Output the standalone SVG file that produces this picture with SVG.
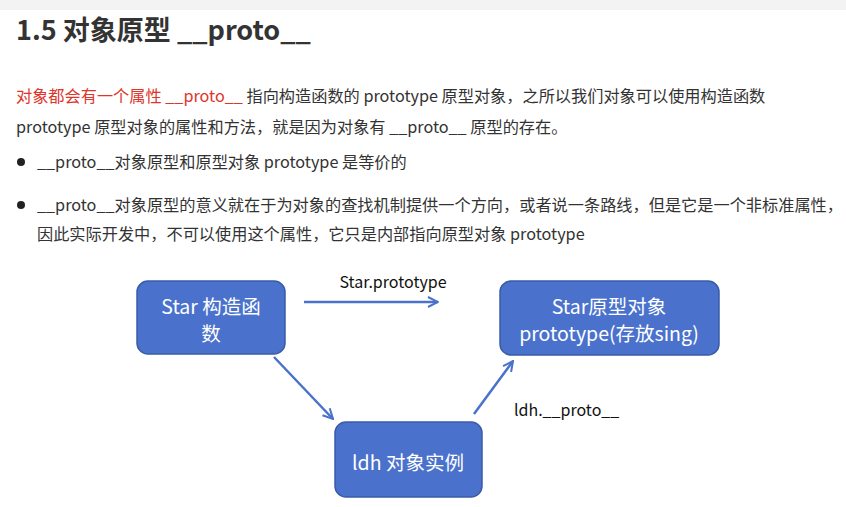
<svg xmlns="http://www.w3.org/2000/svg" width="846" height="507" viewBox="0 0 846 507">
<style>
.t{font-family:"Noto Sans CJK SC","Noto Sans",sans-serif;fill:#333;font-size:16.2px}
.red{fill:#e0352b}
.h{font-family:"Noto Sans CJK SC","Noto Sans",sans-serif;font-weight:bold;font-size:27px;fill:#333}
.box{fill:#4a72cc;stroke:#3a5ca8;stroke-width:1.5}
.bt{font-family:"Noto Sans CJK SC","Noto Sans",sans-serif;fill:#fff;font-size:19.5px;text-anchor:middle}
.lbl{font-family:"Noto Sans CJK SC","Noto Sans",sans-serif;fill:#111;font-size:16px}
.arr{stroke:#4a72cc;stroke-width:2.5;fill:none;marker-end:url(#ah)}
</style>
<defs>
<marker id="ah" viewBox="0 0 10 10" refX="9" refY="5" markerWidth="5" markerHeight="5" orient="auto" markerUnits="strokeWidth">
<path d="M1,1 L9,5 L1,9" fill="none" stroke="#4a72cc" stroke-width="1.6"/>
</marker>
</defs>
<rect width="846" height="507" fill="#fff"/>
<rect width="846" height="10" fill="#f3f3f3"/>
<g id="title"><text class="h" x="16" y="40">1.5 对象原型 __proto__</text></g>
<g id="para">
<text class="t" x="16" y="102"><tspan class="red">对象都会有一个属性 __proto__ </tspan>指向构造函数的 prototype 原型对象，之所以我们对象可以使用构造函数</text>
<text class="t" x="16" y="133">prototype 原型对象的属性和方法，就是因为对象有 __proto__ 原型的存在。</text>
<circle cx="21" cy="162" r="4" fill="#222"/>
<text class="t" x="37" y="168">__proto__对象原型和原型对象 prototype 是等价的</text>
<circle cx="21" cy="205" r="4" fill="#222"/>
<text class="t" x="37" y="211">__proto__对象原型的意义就在于为对象的查找机制提供一个方向，或者说一条路线，但是它是一个非标准属性，</text>
<text class="t" x="37" y="240">因此实际开发中，不可以使用这个属性，它只是内部指向原型对象 prototype</text>
</g>
<g id="star-ctor">
<rect class="box" x="137" y="281" width="148" height="73" rx="11"/>
<text class="bt" x="211" y="314">Star 构造函</text>
<text class="bt" x="211" y="341">数</text>
</g>
<g id="star-proto">
<rect class="box" x="500" y="281" width="219" height="74" rx="11"/>
<text class="bt" x="609" y="314">Star原型对象</text>
<text class="bt" x="609" y="341">prototype(存放sing)</text>
</g>
<g id="ldh">
<rect class="box" x="335" y="422" width="147" height="75" rx="11"/>
<text class="bt" x="408" y="470">ldh 对象实例</text>
</g>
<g id="connectors">
<line class="arr" x1="304" y1="302" x2="438" y2="302"/>
<line class="arr" x1="274" y1="357" x2="333" y2="419"/>
<line class="arr" x1="474" y1="414" x2="513" y2="361"/>
<text class="lbl" x="393" y="288" text-anchor="middle">Star.prototype</text>
<text class="lbl" x="514" y="416">ldh.__proto__</text>
</g>
</svg>
